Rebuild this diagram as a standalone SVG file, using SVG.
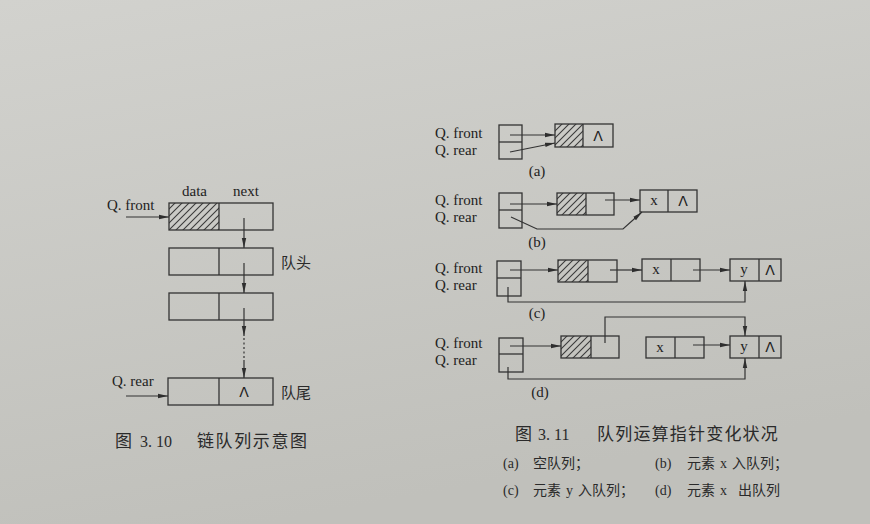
<svg xmlns="http://www.w3.org/2000/svg" width="870" height="524" viewBox="0 0 870 524">
<defs>
<linearGradient id="bg" x1="0" y1="0" x2="0.3" y2="1">
<stop offset="0" stop-color="#d2d2ce"/>
<stop offset="1" stop-color="#c0c0bb"/>
</linearGradient>
<pattern id="hatch" patternUnits="userSpaceOnUse" width="7" height="7">
<path d="M-1,8 L8,-1 M-1,1 L1,-1 M6,8 L8,6" stroke="#3a3a3a" stroke-width="1.1"/>
</pattern>
<marker id="ah" markerUnits="userSpaceOnUse" markerWidth="10" markerHeight="6" refX="10" refY="3" orient="auto">
<path d="M0,0.8 L10,3 L0,5.2 z" fill="#2e2e2e"/>
</marker>
</defs>
<style>
.box{fill:none;stroke:#333;stroke-width:1.3}
.hat{fill:url(#hatch);stroke:none}
.div{stroke:#333;stroke-width:1.3}
.ln{fill:none;stroke:#333;stroke-width:1.2}
.arr{fill:none;stroke:#333;stroke-width:1.2;marker-end:url(#ah)}
.lbl{font-family:"Liberation Serif",serif;font-size:15px;fill:#222}
.sym{font-family:"DejaVu Sans","Liberation Sans",sans-serif;font-size:14px;fill:#222}
.cn{font-family:"Liberation Serif","Noto Sans CJK SC",serif;fill:#2a2a2a}
</style>
<rect x="0" y="0" width="870" height="524" fill="url(#bg)"/>

<!-- Figure 3.10 -->
<g id="fig310-headings">
<text class="lbl" x="182" y="196" font-size="16">data</text>
<text class="lbl" x="233" y="196" font-size="16">next</text>
<text class="lbl" x="107" y="210">Q. front</text>
<text class="lbl" x="112" y="386">Q. rear</text>
<text class="cn" x="281" y="268" font-size="15">队头</text>
<text class="cn" x="281" y="398" font-size="15">队尾</text>
</g>
<g id="f10-n1">
<rect class="hat" x="169" y="203" width="50" height="27"/>
<rect class="box" x="169" y="203" width="104" height="27"/>
<line class="div" x1="219" y1="203" x2="219" y2="230"/>
</g>
<g id="f10-n2">
<rect class="box" x="169" y="248" width="104" height="27"/>
<line class="div" x1="219" y1="248" x2="219" y2="275"/>
</g>
<g id="f10-n3">
<rect class="box" x="169" y="293" width="104" height="27"/>
<line class="div" x1="219" y1="293" x2="219" y2="320"/>
</g>
<g id="f10-n4">
<rect class="box" x="168" y="378" width="105" height="27"/>
<line class="div" x1="219" y1="378" x2="219" y2="405"/>
<text class="sym" x="244" y="397" text-anchor="middle">Λ</text>
</g>
<g id="f10-connectors">
<line class="arr" x1="126" y1="217" x2="169" y2="217"/>
<line class="arr" x1="244" y1="218" x2="244" y2="248"/>
<line class="arr" x1="244" y1="263" x2="244" y2="293"/>
<line class="arr" x1="244" y1="308" x2="244" y2="336"/>
<line class="ln" x1="244" y1="338" x2="244" y2="360" stroke-dasharray="2,2.5"/>
<line class="arr" x1="244" y1="360" x2="244" y2="378"/>
<line class="arr" x1="126" y1="396" x2="168" y2="396"/>
</g>
<text class="cn" y="447" font-size="17"><tspan x="115">图</tspan><tspan x="140" font-size="16">3. 10</tspan><tspan x="197" letter-spacing="1.6">链队列示意图</tspan></text>

<!-- Figure 3.11 (a) -->
<g id="a-labels">
<text class="lbl" x="435" y="138">Q. front</text>
<text class="lbl" x="435" y="155">Q. rear</text>
<text class="lbl" x="537" y="176" text-anchor="middle" font-size="16">(a)</text>
</g>
<g id="a-ptr">
<rect class="box" x="499" y="125" width="23" height="34"/>
<line class="div" x1="499" y1="142" x2="522" y2="142"/>
</g>
<g id="a-head">
<rect class="hat" x="555" y="124" width="28" height="23"/>
<rect class="box" x="555" y="124" width="58" height="23"/>
<line class="div" x1="583" y1="124" x2="583" y2="147"/>
<text class="sym" x="598" y="141" text-anchor="middle">Λ</text>
</g>

<!-- (b) -->
<g id="b-labels">
<text class="lbl" x="435" y="205">Q. front</text>
<text class="lbl" x="435" y="222">Q. rear</text>
<text class="lbl" x="537" y="247" text-anchor="middle" font-size="16">(b)</text>
</g>
<g id="b-ptr">
<rect class="box" x="499" y="193" width="23" height="35"/>
<line class="div" x1="499" y1="210" x2="522" y2="210"/>
</g>
<g id="b-head">
<rect class="hat" x="557" y="193" width="29" height="22"/>
<rect class="box" x="557" y="193" width="57" height="22"/>
<line class="div" x1="586" y1="193" x2="586" y2="215"/>
</g>
<g id="b-x">
<rect class="box" x="640" y="190" width="57" height="22"/>
<line class="div" x1="668" y1="190" x2="668" y2="212"/>
<text class="lbl" x="654" y="205" text-anchor="middle">x</text>
<text class="sym" x="683" y="206" text-anchor="middle">Λ</text>
</g>

<!-- (c) -->
<g id="c-labels">
<text class="lbl" x="435" y="273">Q. front</text>
<text class="lbl" x="435" y="290">Q. rear</text>
<text class="lbl" x="537" y="318" text-anchor="middle" font-size="16">(c)</text>
</g>
<g id="c-ptr">
<rect class="box" x="497" y="261" width="24" height="35"/>
<line class="div" x1="497" y1="278" x2="521" y2="278"/>
</g>
<g id="c-head">
<rect class="hat" x="558" y="260" width="30" height="22"/>
<rect class="box" x="558" y="260" width="59" height="22"/>
<line class="div" x1="588" y1="260" x2="588" y2="282"/>
</g>
<g id="c-x">
<rect class="box" x="642" y="259" width="58" height="22"/>
<line class="div" x1="671" y1="259" x2="671" y2="281"/>
<text class="lbl" x="656" y="274" text-anchor="middle">x</text>
</g>
<g id="c-y">
<rect class="box" x="730" y="259" width="51" height="22"/>
<line class="div" x1="759" y1="259" x2="759" y2="281"/>
<text class="lbl" x="744" y="274" text-anchor="middle">y</text>
<text class="sym" x="770" y="275" text-anchor="middle">Λ</text>
</g>

<!-- (d) -->
<g id="d-labels">
<text class="lbl" x="435" y="348">Q. front</text>
<text class="lbl" x="435" y="365">Q. rear</text>
<text class="lbl" x="540" y="397" text-anchor="middle" font-size="16">(d)</text>
</g>
<g id="d-ptr">
<rect class="box" x="499" y="338" width="24" height="34"/>
<line class="div" x1="499" y1="354" x2="523" y2="354"/>
</g>
<g id="d-head">
<rect class="hat" x="561" y="336" width="30" height="22"/>
<rect class="box" x="561" y="336" width="58" height="22"/>
<line class="div" x1="591" y1="336" x2="591" y2="358"/>
</g>
<g id="d-x">
<rect class="box" x="646" y="337" width="58" height="21"/>
<line class="div" x1="675" y1="337" x2="675" y2="358"/>
<text class="lbl" x="660" y="352" text-anchor="middle">x</text>
</g>
<g id="d-y">
<rect class="box" x="730" y="336" width="51" height="22"/>
<line class="div" x1="759" y1="336" x2="759" y2="358"/>
<text class="lbl" x="744" y="351" text-anchor="middle">y</text>
<text class="sym" x="770" y="352" text-anchor="middle">Λ</text>
</g>

<g id="fig311-connectors">
<line class="arr" x1="510" y1="135" x2="555" y2="135"/>
<line class="arr" x1="510" y1="152" x2="555" y2="143"/>
<line class="arr" x1="510" y1="204" x2="557" y2="204"/>
<line class="arr" x1="605" y1="200" x2="640" y2="200"/>
<polyline class="arr" points="511,217 537,229 623,229 642,212"/>
<line class="arr" x1="510" y1="270" x2="558" y2="270"/>
<line class="arr" x1="610" y1="270" x2="642" y2="270"/>
<line class="arr" x1="693" y1="270" x2="730" y2="270"/>
<polyline class="arr" points="508,287 508,302 745,302 745,281"/>
<line class="arr" x1="510" y1="346" x2="561" y2="346"/>
<polyline class="arr" points="605,343 605,317 745,317 745,336"/>
<line class="arr" x1="693" y1="345" x2="730" y2="345"/>
<polyline class="arr" points="508,367 508,379 745,379 745,358"/>
</g>

<g id="fig311-caption">
<text class="cn" y="440" font-size="17"><tspan x="515">图</tspan><tspan x="538" font-size="16">3. 11</tspan><tspan x="597" letter-spacing="1.2">队列运算指针变化状况</tspan></text>
<text class="cn" y="468" font-size="14"><tspan x="503">(a)</tspan><tspan x="533">空队列；</tspan><tspan x="655">(b)</tspan><tspan x="687">元素</tspan><tspan x="720">x</tspan><tspan x="732">入队列；</tspan></text>
<text class="cn" y="495" font-size="14"><tspan x="503">(c)</tspan><tspan x="533">元素</tspan><tspan x="566">y</tspan><tspan x="578">入队列；</tspan><tspan x="655">(d)</tspan><tspan x="687">元素</tspan><tspan x="720">x</tspan><tspan x="738">出队列</tspan></text>
</g>
</svg>
